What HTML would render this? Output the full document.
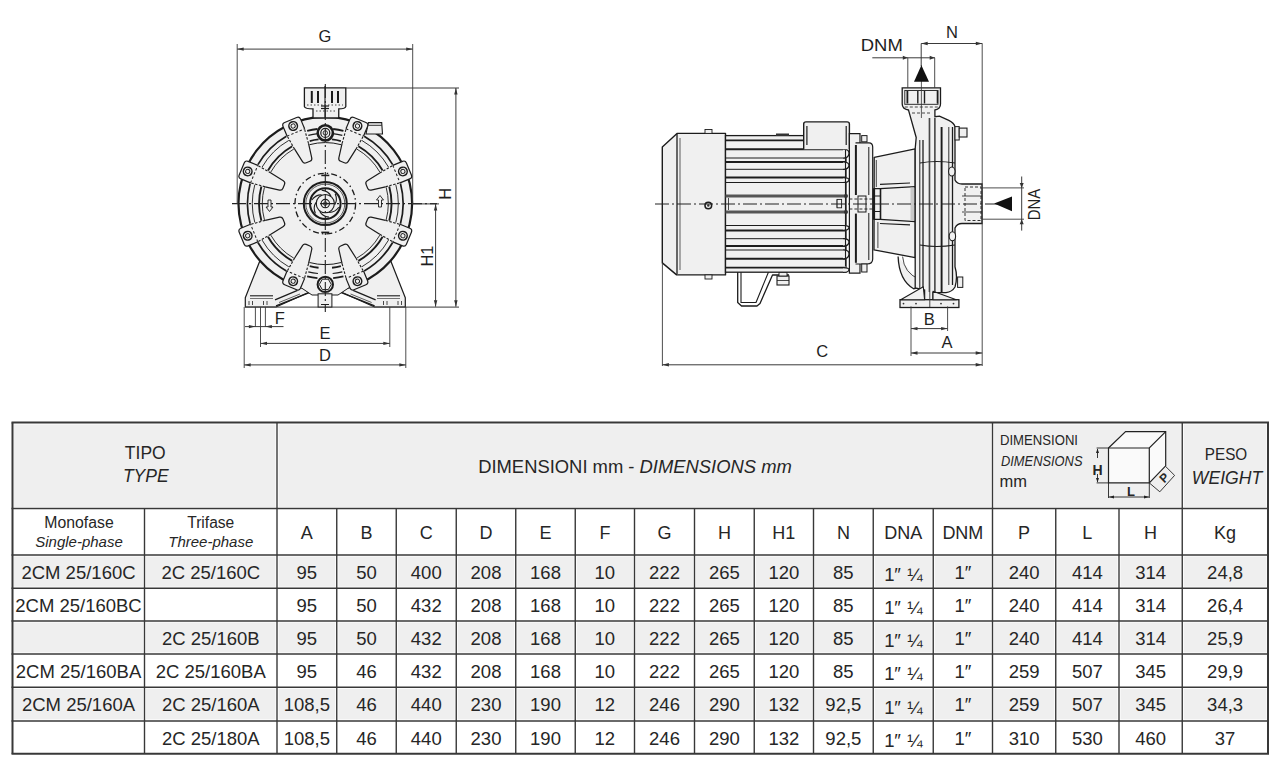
<!DOCTYPE html>
<html><head><meta charset="utf-8"><style>
html,body{margin:0;padding:0;background:#fff;width:1280px;height:773px;overflow:hidden}
svg{position:absolute;left:0;top:0;font-family:"Liberation Sans",sans-serif;fill:#262626}
</style></head><body>
<svg width="1280" height="773" viewBox="0 0 1280 773">
<rect x="14.00" y="424.50" width="261.50" height="82.50" fill="#efefef"/>
<rect x="278.50" y="424.50" width="712.50" height="82.50" fill="#efefef"/>
<rect x="994.00" y="424.50" width="186.75" height="82.50" fill="#efefef"/>
<rect x="1183.75" y="424.50" width="82.75" height="82.50" fill="#efefef"/>
<rect x="14.00" y="556.50" width="129.00" height="30.20" fill="#efefef"/>
<rect x="146.00" y="556.50" width="129.50" height="30.20" fill="#efefef"/>
<rect x="278.50" y="556.50" width="56.75" height="30.20" fill="#efefef"/>
<rect x="338.25" y="556.50" width="56.50" height="30.20" fill="#efefef"/>
<rect x="397.75" y="556.50" width="57.00" height="30.20" fill="#efefef"/>
<rect x="457.75" y="556.50" width="56.50" height="30.20" fill="#efefef"/>
<rect x="517.25" y="556.50" width="56.50" height="30.20" fill="#efefef"/>
<rect x="576.75" y="556.50" width="56.25" height="30.20" fill="#efefef"/>
<rect x="636.00" y="556.50" width="57.00" height="30.20" fill="#efefef"/>
<rect x="696.00" y="556.50" width="56.75" height="30.20" fill="#efefef"/>
<rect x="755.75" y="556.50" width="56.25" height="30.20" fill="#efefef"/>
<rect x="815.00" y="556.50" width="56.75" height="30.20" fill="#efefef"/>
<rect x="874.75" y="556.50" width="57.00" height="30.20" fill="#efefef"/>
<rect x="934.75" y="556.50" width="56.25" height="30.20" fill="#efefef"/>
<rect x="994.00" y="556.50" width="60.25" height="30.20" fill="#efefef"/>
<rect x="1057.25" y="556.50" width="60.25" height="30.20" fill="#efefef"/>
<rect x="1120.50" y="556.50" width="60.25" height="30.20" fill="#efefef"/>
<rect x="1183.75" y="556.50" width="82.75" height="30.20" fill="#efefef"/>
<rect x="14.00" y="622.50" width="129.00" height="30.00" fill="#efefef"/>
<rect x="146.00" y="622.50" width="129.50" height="30.00" fill="#efefef"/>
<rect x="278.50" y="622.50" width="56.75" height="30.00" fill="#efefef"/>
<rect x="338.25" y="622.50" width="56.50" height="30.00" fill="#efefef"/>
<rect x="397.75" y="622.50" width="57.00" height="30.00" fill="#efefef"/>
<rect x="457.75" y="622.50" width="56.50" height="30.00" fill="#efefef"/>
<rect x="517.25" y="622.50" width="56.50" height="30.00" fill="#efefef"/>
<rect x="576.75" y="622.50" width="56.25" height="30.00" fill="#efefef"/>
<rect x="636.00" y="622.50" width="57.00" height="30.00" fill="#efefef"/>
<rect x="696.00" y="622.50" width="56.75" height="30.00" fill="#efefef"/>
<rect x="755.75" y="622.50" width="56.25" height="30.00" fill="#efefef"/>
<rect x="815.00" y="622.50" width="56.75" height="30.00" fill="#efefef"/>
<rect x="874.75" y="622.50" width="57.00" height="30.00" fill="#efefef"/>
<rect x="934.75" y="622.50" width="56.25" height="30.00" fill="#efefef"/>
<rect x="994.00" y="622.50" width="60.25" height="30.00" fill="#efefef"/>
<rect x="1057.25" y="622.50" width="60.25" height="30.00" fill="#efefef"/>
<rect x="1120.50" y="622.50" width="60.25" height="30.00" fill="#efefef"/>
<rect x="1183.75" y="622.50" width="82.75" height="30.00" fill="#efefef"/>
<rect x="14.00" y="688.80" width="129.00" height="30.60" fill="#efefef"/>
<rect x="146.00" y="688.80" width="129.50" height="30.60" fill="#efefef"/>
<rect x="278.50" y="688.80" width="56.75" height="30.60" fill="#efefef"/>
<rect x="338.25" y="688.80" width="56.50" height="30.60" fill="#efefef"/>
<rect x="397.75" y="688.80" width="57.00" height="30.60" fill="#efefef"/>
<rect x="457.75" y="688.80" width="56.50" height="30.60" fill="#efefef"/>
<rect x="517.25" y="688.80" width="56.50" height="30.60" fill="#efefef"/>
<rect x="576.75" y="688.80" width="56.25" height="30.60" fill="#efefef"/>
<rect x="636.00" y="688.80" width="57.00" height="30.60" fill="#efefef"/>
<rect x="696.00" y="688.80" width="56.75" height="30.60" fill="#efefef"/>
<rect x="755.75" y="688.80" width="56.25" height="30.60" fill="#efefef"/>
<rect x="815.00" y="688.80" width="56.75" height="30.60" fill="#efefef"/>
<rect x="874.75" y="688.80" width="57.00" height="30.60" fill="#efefef"/>
<rect x="934.75" y="688.80" width="56.25" height="30.60" fill="#efefef"/>
<rect x="994.00" y="688.80" width="60.25" height="30.60" fill="#efefef"/>
<rect x="1057.25" y="688.80" width="60.25" height="30.60" fill="#efefef"/>
<rect x="1120.50" y="688.80" width="60.25" height="30.60" fill="#efefef"/>
<rect x="1183.75" y="688.80" width="82.75" height="30.60" fill="#efefef"/>
<line x1="11.5" y1="422.5" x2="1269" y2="422.5" stroke="#383838" stroke-width="2"/>
<line x1="11.5" y1="508.5" x2="1269" y2="508.5" stroke="#383838" stroke-width="1.5"/>
<line x1="11.5" y1="555" x2="1269" y2="555" stroke="#383838" stroke-width="1.5"/>
<line x1="11.5" y1="588.2" x2="1269" y2="588.2" stroke="#383838" stroke-width="1.5"/>
<line x1="11.5" y1="621" x2="1269" y2="621" stroke="#383838" stroke-width="1.5"/>
<line x1="11.5" y1="654" x2="1269" y2="654" stroke="#383838" stroke-width="1.5"/>
<line x1="11.5" y1="687.3" x2="1269" y2="687.3" stroke="#383838" stroke-width="1.5"/>
<line x1="11.5" y1="720.9" x2="1269" y2="720.9" stroke="#383838" stroke-width="1.5"/>
<line x1="11.5" y1="753.7" x2="1269" y2="753.7" stroke="#383838" stroke-width="2"/>
<line x1="12.5" y1="422.5" x2="12.5" y2="753.7" stroke="#383838" stroke-width="2"/>
<line x1="144.5" y1="508.5" x2="144.5" y2="753.7" stroke="#383838" stroke-width="1.4"/>
<line x1="277" y1="422.5" x2="277" y2="753.7" stroke="#383838" stroke-width="1.4"/>
<line x1="336.75" y1="508.5" x2="336.75" y2="753.7" stroke="#383838" stroke-width="1.4"/>
<line x1="396.25" y1="508.5" x2="396.25" y2="753.7" stroke="#383838" stroke-width="1.4"/>
<line x1="456.25" y1="508.5" x2="456.25" y2="753.7" stroke="#383838" stroke-width="1.4"/>
<line x1="515.75" y1="508.5" x2="515.75" y2="753.7" stroke="#383838" stroke-width="1.4"/>
<line x1="575.25" y1="508.5" x2="575.25" y2="753.7" stroke="#383838" stroke-width="1.4"/>
<line x1="634.5" y1="508.5" x2="634.5" y2="753.7" stroke="#383838" stroke-width="1.4"/>
<line x1="694.5" y1="508.5" x2="694.5" y2="753.7" stroke="#383838" stroke-width="1.4"/>
<line x1="754.25" y1="508.5" x2="754.25" y2="753.7" stroke="#383838" stroke-width="1.4"/>
<line x1="813.5" y1="508.5" x2="813.5" y2="753.7" stroke="#383838" stroke-width="1.4"/>
<line x1="873.25" y1="508.5" x2="873.25" y2="753.7" stroke="#383838" stroke-width="1.4"/>
<line x1="933.25" y1="508.5" x2="933.25" y2="753.7" stroke="#383838" stroke-width="1.4"/>
<line x1="992.5" y1="422.5" x2="992.5" y2="753.7" stroke="#383838" stroke-width="1.4"/>
<line x1="1055.75" y1="508.5" x2="1055.75" y2="753.7" stroke="#383838" stroke-width="1.4"/>
<line x1="1119" y1="508.5" x2="1119" y2="753.7" stroke="#383838" stroke-width="1.4"/>
<line x1="1182.25" y1="422.5" x2="1182.25" y2="753.7" stroke="#383838" stroke-width="1.4"/>
<line x1="1268" y1="422.5" x2="1268" y2="753.7" stroke="#383838" stroke-width="2"/>
<text x="145.25" y="458.50" font-size="17.5" text-anchor="middle">TIPO</text>
<text x="145.75" y="481.80" font-size="17.5" text-anchor="middle" font-style="italic">TYPE</text>
<text x="635.00" y="472.90" font-size="18.4" text-anchor="middle">DIMENSIONI mm - <tspan font-style="italic">DIMENSIONS mm</tspan></text>
<text x="1226.00" y="460.40" font-size="17" text-anchor="middle" textLength="42.5" lengthAdjust="spacingAndGlyphs">PESO</text>
<text x="1227.00" y="483.70" font-size="17.5" text-anchor="middle" font-style="italic" textLength="70.5" lengthAdjust="spacingAndGlyphs">WEIGHT</text>
<text x="79.00" y="528.00" font-size="15.8" text-anchor="middle">Monofase</text>
<text x="79.00" y="547.30" font-size="15" text-anchor="middle" font-style="italic">Single-phase</text>
<text x="210.75" y="528.00" font-size="15.6" text-anchor="middle">Trifase</text>
<text x="210.75" y="547.30" font-size="15" text-anchor="middle" font-style="italic">Three-phase</text>
<text x="306.88" y="538.60" font-size="18" text-anchor="middle">A</text>
<text x="366.50" y="538.60" font-size="18" text-anchor="middle">B</text>
<text x="426.25" y="538.60" font-size="18" text-anchor="middle">C</text>
<text x="486.00" y="538.60" font-size="18" text-anchor="middle">D</text>
<text x="545.50" y="538.60" font-size="18" text-anchor="middle">E</text>
<text x="604.88" y="538.60" font-size="18" text-anchor="middle">F</text>
<text x="664.50" y="538.60" font-size="18" text-anchor="middle">G</text>
<text x="724.38" y="538.60" font-size="18" text-anchor="middle">H</text>
<text x="783.88" y="538.60" font-size="18" text-anchor="middle">H1</text>
<text x="843.38" y="538.60" font-size="18" text-anchor="middle">N</text>
<text x="903.25" y="538.60" font-size="18" text-anchor="middle">DNA</text>
<text x="962.88" y="538.60" font-size="18" text-anchor="middle">DNM</text>
<text x="1024.12" y="538.60" font-size="18" text-anchor="middle">P</text>
<text x="1087.38" y="538.60" font-size="18" text-anchor="middle">L</text>
<text x="1150.62" y="538.60" font-size="18" text-anchor="middle">H</text>
<text x="1225.12" y="538.60" font-size="18" text-anchor="middle">Kg</text>
<text x="78.50" y="578.80" font-size="18.5" text-anchor="middle">2CM 25/160C</text>
<text x="210.75" y="578.80" font-size="18.5" text-anchor="middle">2C 25/160C</text>
<text x="306.88" y="578.80" font-size="18.5" text-anchor="middle">95</text>
<text x="366.50" y="578.80" font-size="18.5" text-anchor="middle">50</text>
<text x="426.25" y="578.80" font-size="18.5" text-anchor="middle">400</text>
<text x="486.00" y="578.80" font-size="18.5" text-anchor="middle">208</text>
<text x="545.50" y="578.80" font-size="18.5" text-anchor="middle">168</text>
<text x="604.88" y="578.80" font-size="18.5" text-anchor="middle">10</text>
<text x="664.50" y="578.80" font-size="18.5" text-anchor="middle">222</text>
<text x="724.38" y="578.80" font-size="18.5" text-anchor="middle">265</text>
<text x="783.88" y="578.80" font-size="18.5" text-anchor="middle">120</text>
<text x="843.38" y="578.80" font-size="18.5" text-anchor="middle">85</text>
<text x="884.25" y="581.10" font-size="18.5">1</text>
<text x="894.25" y="581.10" font-size="18.5">&#8243;</text>
<text x="907.25" y="581.40" font-size="18.5">&#188;</text>
<text x="962.88" y="578.80" font-size="18.5" text-anchor="middle">1&#8243;</text>
<text x="1024.12" y="578.80" font-size="18.5" text-anchor="middle">240</text>
<text x="1087.38" y="578.80" font-size="18.5" text-anchor="middle">414</text>
<text x="1150.62" y="578.80" font-size="18.5" text-anchor="middle">314</text>
<text x="1225.12" y="578.80" font-size="18.5" text-anchor="middle">24,8</text>
<text x="78.50" y="611.80" font-size="18.5" text-anchor="middle">2CM 25/160BC</text>
<text x="306.88" y="611.80" font-size="18.5" text-anchor="middle">95</text>
<text x="366.50" y="611.80" font-size="18.5" text-anchor="middle">50</text>
<text x="426.25" y="611.80" font-size="18.5" text-anchor="middle">432</text>
<text x="486.00" y="611.80" font-size="18.5" text-anchor="middle">208</text>
<text x="545.50" y="611.80" font-size="18.5" text-anchor="middle">168</text>
<text x="604.88" y="611.80" font-size="18.5" text-anchor="middle">10</text>
<text x="664.50" y="611.80" font-size="18.5" text-anchor="middle">222</text>
<text x="724.38" y="611.80" font-size="18.5" text-anchor="middle">265</text>
<text x="783.88" y="611.80" font-size="18.5" text-anchor="middle">120</text>
<text x="843.38" y="611.80" font-size="18.5" text-anchor="middle">85</text>
<text x="884.25" y="614.10" font-size="18.5">1</text>
<text x="894.25" y="614.10" font-size="18.5">&#8243;</text>
<text x="907.25" y="614.40" font-size="18.5">&#188;</text>
<text x="962.88" y="611.80" font-size="18.5" text-anchor="middle">1&#8243;</text>
<text x="1024.12" y="611.80" font-size="18.5" text-anchor="middle">240</text>
<text x="1087.38" y="611.80" font-size="18.5" text-anchor="middle">414</text>
<text x="1150.62" y="611.80" font-size="18.5" text-anchor="middle">314</text>
<text x="1225.12" y="611.80" font-size="18.5" text-anchor="middle">26,4</text>
<text x="210.75" y="644.70" font-size="18.5" text-anchor="middle">2C 25/160B</text>
<text x="306.88" y="644.70" font-size="18.5" text-anchor="middle">95</text>
<text x="366.50" y="644.70" font-size="18.5" text-anchor="middle">50</text>
<text x="426.25" y="644.70" font-size="18.5" text-anchor="middle">432</text>
<text x="486.00" y="644.70" font-size="18.5" text-anchor="middle">208</text>
<text x="545.50" y="644.70" font-size="18.5" text-anchor="middle">168</text>
<text x="604.88" y="644.70" font-size="18.5" text-anchor="middle">10</text>
<text x="664.50" y="644.70" font-size="18.5" text-anchor="middle">222</text>
<text x="724.38" y="644.70" font-size="18.5" text-anchor="middle">265</text>
<text x="783.88" y="644.70" font-size="18.5" text-anchor="middle">120</text>
<text x="843.38" y="644.70" font-size="18.5" text-anchor="middle">85</text>
<text x="884.25" y="647.00" font-size="18.5">1</text>
<text x="894.25" y="647.00" font-size="18.5">&#8243;</text>
<text x="907.25" y="647.30" font-size="18.5">&#188;</text>
<text x="962.88" y="644.70" font-size="18.5" text-anchor="middle">1&#8243;</text>
<text x="1024.12" y="644.70" font-size="18.5" text-anchor="middle">240</text>
<text x="1087.38" y="644.70" font-size="18.5" text-anchor="middle">414</text>
<text x="1150.62" y="644.70" font-size="18.5" text-anchor="middle">314</text>
<text x="1225.12" y="644.70" font-size="18.5" text-anchor="middle">25,9</text>
<text x="78.50" y="677.85" font-size="18.5" text-anchor="middle">2CM 25/160BA</text>
<text x="210.75" y="677.85" font-size="18.5" text-anchor="middle">2C 25/160BA</text>
<text x="306.88" y="677.85" font-size="18.5" text-anchor="middle">95</text>
<text x="366.50" y="677.85" font-size="18.5" text-anchor="middle">46</text>
<text x="426.25" y="677.85" font-size="18.5" text-anchor="middle">432</text>
<text x="486.00" y="677.85" font-size="18.5" text-anchor="middle">208</text>
<text x="545.50" y="677.85" font-size="18.5" text-anchor="middle">168</text>
<text x="604.88" y="677.85" font-size="18.5" text-anchor="middle">10</text>
<text x="664.50" y="677.85" font-size="18.5" text-anchor="middle">222</text>
<text x="724.38" y="677.85" font-size="18.5" text-anchor="middle">265</text>
<text x="783.88" y="677.85" font-size="18.5" text-anchor="middle">120</text>
<text x="843.38" y="677.85" font-size="18.5" text-anchor="middle">85</text>
<text x="884.25" y="680.15" font-size="18.5">1</text>
<text x="894.25" y="680.15" font-size="18.5">&#8243;</text>
<text x="907.25" y="680.45" font-size="18.5">&#188;</text>
<text x="962.88" y="677.85" font-size="18.5" text-anchor="middle">1&#8243;</text>
<text x="1024.12" y="677.85" font-size="18.5" text-anchor="middle">259</text>
<text x="1087.38" y="677.85" font-size="18.5" text-anchor="middle">507</text>
<text x="1150.62" y="677.85" font-size="18.5" text-anchor="middle">345</text>
<text x="1225.12" y="677.85" font-size="18.5" text-anchor="middle">29,9</text>
<text x="78.50" y="711.30" font-size="18.5" text-anchor="middle">2CM 25/160A</text>
<text x="210.75" y="711.30" font-size="18.5" text-anchor="middle">2C 25/160A</text>
<text x="306.88" y="711.30" font-size="18.5" text-anchor="middle">108,5</text>
<text x="366.50" y="711.30" font-size="18.5" text-anchor="middle">46</text>
<text x="426.25" y="711.30" font-size="18.5" text-anchor="middle">440</text>
<text x="486.00" y="711.30" font-size="18.5" text-anchor="middle">230</text>
<text x="545.50" y="711.30" font-size="18.5" text-anchor="middle">190</text>
<text x="604.88" y="711.30" font-size="18.5" text-anchor="middle">12</text>
<text x="664.50" y="711.30" font-size="18.5" text-anchor="middle">246</text>
<text x="724.38" y="711.30" font-size="18.5" text-anchor="middle">290</text>
<text x="783.88" y="711.30" font-size="18.5" text-anchor="middle">132</text>
<text x="843.38" y="711.30" font-size="18.5" text-anchor="middle">92,5</text>
<text x="884.25" y="713.60" font-size="18.5">1</text>
<text x="894.25" y="713.60" font-size="18.5">&#8243;</text>
<text x="907.25" y="713.90" font-size="18.5">&#188;</text>
<text x="962.88" y="711.30" font-size="18.5" text-anchor="middle">1&#8243;</text>
<text x="1024.12" y="711.30" font-size="18.5" text-anchor="middle">259</text>
<text x="1087.38" y="711.30" font-size="18.5" text-anchor="middle">507</text>
<text x="1150.62" y="711.30" font-size="18.5" text-anchor="middle">345</text>
<text x="1225.12" y="711.30" font-size="18.5" text-anchor="middle">34,3</text>
<text x="210.75" y="744.50" font-size="18.5" text-anchor="middle">2C 25/180A</text>
<text x="306.88" y="744.50" font-size="18.5" text-anchor="middle">108,5</text>
<text x="366.50" y="744.50" font-size="18.5" text-anchor="middle">46</text>
<text x="426.25" y="744.50" font-size="18.5" text-anchor="middle">440</text>
<text x="486.00" y="744.50" font-size="18.5" text-anchor="middle">230</text>
<text x="545.50" y="744.50" font-size="18.5" text-anchor="middle">190</text>
<text x="604.88" y="744.50" font-size="18.5" text-anchor="middle">12</text>
<text x="664.50" y="744.50" font-size="18.5" text-anchor="middle">246</text>
<text x="724.38" y="744.50" font-size="18.5" text-anchor="middle">290</text>
<text x="783.88" y="744.50" font-size="18.5" text-anchor="middle">132</text>
<text x="843.38" y="744.50" font-size="18.5" text-anchor="middle">92,5</text>
<text x="884.25" y="746.80" font-size="18.5">1</text>
<text x="894.25" y="746.80" font-size="18.5">&#8243;</text>
<text x="907.25" y="747.10" font-size="18.5">&#188;</text>
<text x="962.88" y="744.50" font-size="18.5" text-anchor="middle">1&#8243;</text>
<text x="1024.12" y="744.50" font-size="18.5" text-anchor="middle">310</text>
<text x="1087.38" y="744.50" font-size="18.5" text-anchor="middle">530</text>
<text x="1150.62" y="744.50" font-size="18.5" text-anchor="middle">460</text>
<text x="1225.12" y="744.50" font-size="18.5" text-anchor="middle">37</text>
<text x="1000" y="445" font-size="14.5" textLength="78" lengthAdjust="spacingAndGlyphs">DIMENSIONI</text>
<text x="1001" y="466" font-size="14.5" font-style="italic" textLength="81.5" lengthAdjust="spacingAndGlyphs">DIMENSIONS</text>
<text x="999.5" y="487.3" font-size="16.5">mm</text>
<path d="M1108.5,448 L1125.6,431.6 L1165.7,431.6 L1165.7,465.8 L1149.3,482.9 L1108.5,482.9 Z" fill="#fafafa" stroke="#222" stroke-width="1.2"/>
<path d="M1108.5,448 L1149.3,448 L1165.7,431.6 M1149.3,448 L1149.3,482.9" fill="none" stroke="#222" stroke-width="1.2"/>
<path d="M1096.6,448 L1108.5,448 M1096.6,482.9 L1108.5,482.9 M1097.5,449 L1097.5,458 M1097.5,474 L1097.5,482" fill="none" stroke="#222" stroke-width="0.9"/>
<polygon points="1097.5,448.5 1096,453 1099,453" fill="#222"/><polygon points="1097.5,482.5 1096,478 1099,478" fill="#222"/>
<text x="1097.5" y="474.7" font-size="14" font-weight="bold" text-anchor="middle">H</text>
<path d="M1108.5,483 L1108.5,498 M1149.3,483 L1149.3,498 M1109,497 L1149,497" fill="none" stroke="#222" stroke-width="0.9"/>
<polygon points="1109,497 1114,495.5 1114,498.5" fill="#222"/><polygon points="1149,497 1144,495.5 1144,498.5" fill="#222"/>
<text x="1131" y="495.5" font-size="13" font-weight="bold" text-anchor="middle">L</text>
<path d="M1149.3,482.9 L1159.8,491.8 M1165.7,466.5 L1174.6,475.4 M1159.8,491.8 L1174.6,475.4" fill="none" stroke="#222" stroke-width="0.9"/>
<text x="1163.5" y="482" font-size="12" font-weight="bold" text-anchor="middle" transform="rotate(-45 1163.5 477)">P</text>
<polygon points="261.00,258.00 245.30,297.80 245.30,307.00 276.00,307.00 314.00,290.00 300.00,270.00" fill="#f0f0f0" stroke="#1c1c1c" stroke-width="1.2" stroke-linejoin="round"/>
<polygon points="389.60,258.00 405.30,297.80 405.30,307.00 374.60,307.00 336.60,290.00 350.60,270.00" fill="#f0f0f0" stroke="#1c1c1c" stroke-width="1.2" stroke-linejoin="round"/>
<line x1="250.00" y1="295.80" x2="273.00" y2="295.80" stroke="#1c1c1c" stroke-width="1.1"/>
<line x1="250.00" y1="298.50" x2="273.00" y2="298.50" stroke="#1c1c1c" stroke-width="0.6"/>
<line x1="377.00" y1="295.80" x2="400.00" y2="295.80" stroke="#1c1c1c" stroke-width="1.1"/>
<line x1="377.00" y1="298.50" x2="400.00" y2="298.50" stroke="#1c1c1c" stroke-width="0.6"/>
<line x1="249.00" y1="301.00" x2="249.00" y2="305.00" stroke="#1c1c1c" stroke-width="0.8"/>
<line x1="252.50" y1="301.00" x2="252.50" y2="305.00" stroke="#1c1c1c" stroke-width="0.8"/>
<line x1="263.50" y1="301.00" x2="263.50" y2="305.00" stroke="#1c1c1c" stroke-width="0.8"/>
<line x1="267.00" y1="301.00" x2="267.00" y2="305.00" stroke="#1c1c1c" stroke-width="0.8"/>
<line x1="383.50" y1="301.00" x2="383.50" y2="305.00" stroke="#1c1c1c" stroke-width="0.8"/>
<line x1="387.00" y1="301.00" x2="387.00" y2="305.00" stroke="#1c1c1c" stroke-width="0.8"/>
<line x1="398.00" y1="301.00" x2="398.00" y2="305.00" stroke="#1c1c1c" stroke-width="0.8"/>
<line x1="401.50" y1="301.00" x2="401.50" y2="305.00" stroke="#1c1c1c" stroke-width="0.8"/>
<line x1="276.00" y1="305.80" x2="313.00" y2="291.20" stroke="#1c1c1c" stroke-width="1.4"/>
<line x1="275.00" y1="299.80" x2="297.50" y2="290.40" stroke="#1c1c1c" stroke-width="1.3"/>
<line x1="279.00" y1="302.50" x2="300.00" y2="294.00" stroke="#1c1c1c" stroke-width="0.7"/>
<line x1="374.60" y1="305.80" x2="337.60" y2="291.20" stroke="#1c1c1c" stroke-width="1.4"/>
<line x1="375.60" y1="299.80" x2="353.10" y2="290.40" stroke="#1c1c1c" stroke-width="1.3"/>
<line x1="371.60" y1="302.50" x2="350.60" y2="294.00" stroke="#1c1c1c" stroke-width="0.7"/>
<line x1="245.00" y1="307.10" x2="459.00" y2="307.10" stroke="#3a3a3a" stroke-width="1.0"/>
<circle cx="325.30" cy="203.60" r="86.80" fill="#f0f0f0" stroke="none" stroke-width="0"/>
<path d="M360.60,282.90 A86.80,86.80 0 1 0 290.00,282.90" fill="none" stroke="#1c1c1c" stroke-width="2.2"/>
<path d="M340.55,290.07 A87.80,87.80 0 0 0 361.01,283.81" fill="none" stroke="#1c1c1c" stroke-width="1.0"/>
<path d="M289.59,283.81 A87.80,87.80 0 0 0 310.05,290.07" fill="none" stroke="#1c1c1c" stroke-width="1.0"/>
<path d="M366,134 L368.4,122.6 L381.7,122.6 L382.5,134 Z" fill="#f0f0f0" stroke="#1c1c1c" stroke-width="1.1"/>
<line x1="368.40" y1="125.30" x2="381.70" y2="125.30" stroke="#1c1c1c" stroke-width="0.9"/>
<path d="M304.4,87.8 L345.8,87.8 L345.8,106.6 Q345,108.9 338.75,108.9 L338.75,118 L313,118 L313,108.9 Q305.2,108.9 304.4,106.6 Z" fill="#f0f0f0" stroke="#1c1c1c" stroke-width="1.3"/>
<line x1="311.80" y1="91.00" x2="311.80" y2="103.00" stroke="#1c1c1c" stroke-width="2.0"/>
<line x1="318.00" y1="91.00" x2="318.00" y2="103.00" stroke="#1c1c1c" stroke-width="2.0"/>
<line x1="332.00" y1="91.00" x2="332.00" y2="103.00" stroke="#1c1c1c" stroke-width="2.0"/>
<line x1="338.00" y1="91.00" x2="338.00" y2="103.00" stroke="#1c1c1c" stroke-width="2.0"/>
<line x1="325.00" y1="86.00" x2="325.00" y2="118.00" stroke="#1c1c1c" stroke-width="1.1"/>
<line x1="321.00" y1="106.00" x2="329.00" y2="106.00" stroke="#1c1c1c" stroke-width="1.2"/>
<line x1="321.00" y1="108.50" x2="329.00" y2="108.50" stroke="#1c1c1c" stroke-width="1.2"/>
<line x1="307.00" y1="105.00" x2="343.00" y2="105.00" stroke="#1c1c1c" stroke-width="0.8" stroke-dasharray="1.5 2"/>
<line x1="316.00" y1="111.00" x2="336.00" y2="111.00" stroke="#1c1c1c" stroke-width="0.8" stroke-dasharray="1.5 2"/>
<path d="M400.45,223.74 A77.80,77.80 0 0 0 400.45,183.46" fill="none" stroke="#1c1c1c" stroke-width="1.7"/>
<path d="M395.81,222.49 A73.00,73.00 0 0 0 395.81,184.71" fill="none" stroke="#1c1c1c" stroke-width="0.9"/>
<path d="M389.24,220.73 A66.20,66.20 0 0 0 389.24,186.47" fill="none" stroke="#1c1c1c" stroke-width="1.9"/>
<path d="M386.15,219.91 A63.00,63.00 0 0 0 386.15,187.29" fill="none" stroke="#1c1c1c" stroke-width="0.9"/>
<path d="M392.68,164.70 A77.80,77.80 0 0 0 364.20,136.22" fill="none" stroke="#1c1c1c" stroke-width="1.7"/>
<path d="M388.52,167.10 A73.00,73.00 0 0 0 361.80,140.38" fill="none" stroke="#1c1c1c" stroke-width="0.9"/>
<path d="M382.63,170.50 A66.20,66.20 0 0 0 358.40,146.27" fill="none" stroke="#1c1c1c" stroke-width="1.9"/>
<path d="M379.86,172.10 A63.00,63.00 0 0 0 356.80,149.04" fill="none" stroke="#1c1c1c" stroke-width="0.9"/>
<path d="M286.40,136.22 A77.80,77.80 0 0 0 257.92,164.70" fill="none" stroke="#1c1c1c" stroke-width="1.7"/>
<path d="M288.80,140.38 A73.00,73.00 0 0 0 262.08,167.10" fill="none" stroke="#1c1c1c" stroke-width="0.9"/>
<path d="M292.20,146.27 A66.20,66.20 0 0 0 267.97,170.50" fill="none" stroke="#1c1c1c" stroke-width="1.9"/>
<path d="M293.80,149.04 A63.00,63.00 0 0 0 270.74,172.10" fill="none" stroke="#1c1c1c" stroke-width="0.9"/>
<path d="M250.15,183.46 A77.80,77.80 0 0 0 250.15,223.74" fill="none" stroke="#1c1c1c" stroke-width="1.7"/>
<path d="M254.79,184.71 A73.00,73.00 0 0 0 254.79,222.49" fill="none" stroke="#1c1c1c" stroke-width="0.9"/>
<path d="M261.36,186.47 A66.20,66.20 0 0 0 261.36,220.73" fill="none" stroke="#1c1c1c" stroke-width="1.9"/>
<path d="M264.45,187.29 A63.00,63.00 0 0 0 264.45,219.91" fill="none" stroke="#1c1c1c" stroke-width="0.9"/>
<path d="M257.92,242.50 A77.80,77.80 0 0 0 286.40,270.98" fill="none" stroke="#1c1c1c" stroke-width="1.7"/>
<path d="M262.08,240.10 A73.00,73.00 0 0 0 288.80,266.82" fill="none" stroke="#1c1c1c" stroke-width="0.9"/>
<path d="M267.97,236.70 A66.20,66.20 0 0 0 292.20,260.93" fill="none" stroke="#1c1c1c" stroke-width="1.9"/>
<path d="M270.74,235.10 A63.00,63.00 0 0 0 293.80,258.16" fill="none" stroke="#1c1c1c" stroke-width="0.9"/>
<path d="M364.20,270.98 A77.80,77.80 0 0 0 392.68,242.50" fill="none" stroke="#1c1c1c" stroke-width="1.7"/>
<path d="M361.80,266.82 A73.00,73.00 0 0 0 388.52,240.10" fill="none" stroke="#1c1c1c" stroke-width="0.9"/>
<path d="M358.40,260.93 A66.20,66.20 0 0 0 382.63,236.70" fill="none" stroke="#1c1c1c" stroke-width="1.9"/>
<path d="M356.80,258.16 A63.00,63.00 0 0 0 379.86,235.10" fill="none" stroke="#1c1c1c" stroke-width="0.9"/>
<path d="M343.44,130.83 A75.00,75.00 0 0 0 333.14,129.01" fill="none" stroke="#1c1c1c" stroke-width="1.8"/>
<path d="M317.46,129.01 A75.00,75.00 0 0 0 307.16,130.83" fill="none" stroke="#1c1c1c" stroke-width="1.8"/>
<path d="M342.31,135.39 A70.30,70.30 0 0 0 332.65,133.69" fill="none" stroke="#1c1c1c" stroke-width="1.2"/>
<path d="M317.95,133.69 A70.30,70.30 0 0 0 308.29,135.39" fill="none" stroke="#1c1c1c" stroke-width="1.2"/>
<path d="M340.90,141.02 A64.50,64.50 0 0 0 332.04,139.45" fill="none" stroke="#1c1c1c" stroke-width="1.8"/>
<path d="M318.56,139.45 A64.50,64.50 0 0 0 309.70,141.02" fill="none" stroke="#1c1c1c" stroke-width="1.8"/>
<path d="M341.09,144.68 A61.00,61.00 0 0 0 309.51,144.68" fill="none" stroke="#1c1c1c" stroke-width="1.0"/>
<path d="M307.16,276.37 A75.00,75.00 0 0 0 317.46,278.19" fill="none" stroke="#1c1c1c" stroke-width="1.8"/>
<path d="M333.14,278.19 A75.00,75.00 0 0 0 343.44,276.37" fill="none" stroke="#1c1c1c" stroke-width="1.8"/>
<path d="M308.29,271.81 A70.30,70.30 0 0 0 317.95,273.51" fill="none" stroke="#1c1c1c" stroke-width="1.2"/>
<path d="M332.65,273.51 A70.30,70.30 0 0 0 342.31,271.81" fill="none" stroke="#1c1c1c" stroke-width="1.2"/>
<path d="M309.70,266.18 A64.50,64.50 0 0 0 318.56,267.75" fill="none" stroke="#1c1c1c" stroke-width="1.8"/>
<path d="M332.04,267.75 A64.50,64.50 0 0 0 340.90,266.18" fill="none" stroke="#1c1c1c" stroke-width="1.8"/>
<path d="M309.51,262.52 A61.00,61.00 0 0 0 341.09,262.52" fill="none" stroke="#1c1c1c" stroke-width="1.0"/>
<g transform="translate(325.30,203.60) rotate(-22.50)"><path d="M78,-9.5 L62,-7.5 L47.5,-5 Q45,-4.6 45,-2 L45,2 Q45,4.6 47.5,5 L62,7.5 L78,9.5 Z" fill="#f0f0f0" stroke="none"/><path d="M62,-7.5 L47.5,-5 Q45,-4.6 45,-2 L45,2 Q45,4.6 47.5,5 L62,7.5" fill="none" stroke="#1c1c1c" stroke-width="1.2"/><path d="M62,-7.5 L78,-9.5 M62,7.5 L78,9.5" fill="none" stroke="#1c1c1c" stroke-width="1.1" stroke-dasharray="2.5 1.5"/><path d="M77,-9.5 L87.5,-9.5 Q90.5,-9.5 90.5,-6.5 L90.5,6.5 Q90.5,9.5 87.5,9.5 L77,9.5" fill="#f0f0f0" stroke="#1c1c1c" stroke-width="1.2"/><path d="M77,-9.5 L77,9.5" fill="none" stroke="#1c1c1c" stroke-width="1.0" stroke-dasharray="2.5 2"/><circle cx="84" cy="0" r="4.3" fill="#f0f0f0" stroke="#1c1c1c" stroke-width="1.5"/><circle cx="84" cy="0" r="2.1" fill="none" stroke="#1c1c1c" stroke-width="0.9"/></g>
<g transform="translate(325.30,203.60) rotate(-67.50)"><path d="M78,-9.5 L62,-7.5 L47.5,-5 Q45,-4.6 45,-2 L45,2 Q45,4.6 47.5,5 L62,7.5 L78,9.5 Z" fill="#f0f0f0" stroke="none"/><path d="M62,-7.5 L47.5,-5 Q45,-4.6 45,-2 L45,2 Q45,4.6 47.5,5 L62,7.5" fill="none" stroke="#1c1c1c" stroke-width="1.2"/><path d="M62,-7.5 L78,-9.5 M62,7.5 L78,9.5" fill="none" stroke="#1c1c1c" stroke-width="1.1" stroke-dasharray="2.5 1.5"/><path d="M77,-9.5 L87.5,-9.5 Q90.5,-9.5 90.5,-6.5 L90.5,6.5 Q90.5,9.5 87.5,9.5 L77,9.5" fill="#f0f0f0" stroke="#1c1c1c" stroke-width="1.2"/><path d="M77,-9.5 L77,9.5" fill="none" stroke="#1c1c1c" stroke-width="1.0" stroke-dasharray="2.5 2"/><circle cx="84" cy="0" r="4.3" fill="#f0f0f0" stroke="#1c1c1c" stroke-width="1.5"/><circle cx="84" cy="0" r="2.1" fill="none" stroke="#1c1c1c" stroke-width="0.9"/></g>
<g transform="translate(325.30,203.60) rotate(-112.50)"><path d="M78,-9.5 L62,-7.5 L47.5,-5 Q45,-4.6 45,-2 L45,2 Q45,4.6 47.5,5 L62,7.5 L78,9.5 Z" fill="#f0f0f0" stroke="none"/><path d="M62,-7.5 L47.5,-5 Q45,-4.6 45,-2 L45,2 Q45,4.6 47.5,5 L62,7.5" fill="none" stroke="#1c1c1c" stroke-width="1.2"/><path d="M62,-7.5 L78,-9.5 M62,7.5 L78,9.5" fill="none" stroke="#1c1c1c" stroke-width="1.1" stroke-dasharray="2.5 1.5"/><path d="M77,-9.5 L87.5,-9.5 Q90.5,-9.5 90.5,-6.5 L90.5,6.5 Q90.5,9.5 87.5,9.5 L77,9.5" fill="#f0f0f0" stroke="#1c1c1c" stroke-width="1.2"/><path d="M77,-9.5 L77,9.5" fill="none" stroke="#1c1c1c" stroke-width="1.0" stroke-dasharray="2.5 2"/><circle cx="84" cy="0" r="4.3" fill="#f0f0f0" stroke="#1c1c1c" stroke-width="1.5"/><circle cx="84" cy="0" r="2.1" fill="none" stroke="#1c1c1c" stroke-width="0.9"/></g>
<g transform="translate(325.30,203.60) rotate(-157.50)"><path d="M78,-9.5 L62,-7.5 L47.5,-5 Q45,-4.6 45,-2 L45,2 Q45,4.6 47.5,5 L62,7.5 L78,9.5 Z" fill="#f0f0f0" stroke="none"/><path d="M62,-7.5 L47.5,-5 Q45,-4.6 45,-2 L45,2 Q45,4.6 47.5,5 L62,7.5" fill="none" stroke="#1c1c1c" stroke-width="1.2"/><path d="M62,-7.5 L78,-9.5 M62,7.5 L78,9.5" fill="none" stroke="#1c1c1c" stroke-width="1.1" stroke-dasharray="2.5 1.5"/><path d="M77,-9.5 L87.5,-9.5 Q90.5,-9.5 90.5,-6.5 L90.5,6.5 Q90.5,9.5 87.5,9.5 L77,9.5" fill="#f0f0f0" stroke="#1c1c1c" stroke-width="1.2"/><path d="M77,-9.5 L77,9.5" fill="none" stroke="#1c1c1c" stroke-width="1.0" stroke-dasharray="2.5 2"/><circle cx="84" cy="0" r="4.3" fill="#f0f0f0" stroke="#1c1c1c" stroke-width="1.5"/><circle cx="84" cy="0" r="2.1" fill="none" stroke="#1c1c1c" stroke-width="0.9"/></g>
<g transform="translate(325.30,203.60) rotate(-202.50)"><path d="M78,-9.5 L62,-7.5 L47.5,-5 Q45,-4.6 45,-2 L45,2 Q45,4.6 47.5,5 L62,7.5 L78,9.5 Z" fill="#f0f0f0" stroke="none"/><path d="M62,-7.5 L47.5,-5 Q45,-4.6 45,-2 L45,2 Q45,4.6 47.5,5 L62,7.5" fill="none" stroke="#1c1c1c" stroke-width="1.2"/><path d="M62,-7.5 L78,-9.5 M62,7.5 L78,9.5" fill="none" stroke="#1c1c1c" stroke-width="1.1" stroke-dasharray="2.5 1.5"/><path d="M77,-9.5 L87.5,-9.5 Q90.5,-9.5 90.5,-6.5 L90.5,6.5 Q90.5,9.5 87.5,9.5 L77,9.5" fill="#f0f0f0" stroke="#1c1c1c" stroke-width="1.2"/><path d="M77,-9.5 L77,9.5" fill="none" stroke="#1c1c1c" stroke-width="1.0" stroke-dasharray="2.5 2"/><circle cx="84" cy="0" r="4.3" fill="#f0f0f0" stroke="#1c1c1c" stroke-width="1.5"/><circle cx="84" cy="0" r="2.1" fill="none" stroke="#1c1c1c" stroke-width="0.9"/></g>
<g transform="translate(325.30,203.60) rotate(-247.50)"><path d="M78,-9.5 L62,-7.5 L47.5,-5 Q45,-4.6 45,-2 L45,2 Q45,4.6 47.5,5 L62,7.5 L78,9.5 Z" fill="#f0f0f0" stroke="none"/><path d="M62,-7.5 L47.5,-5 Q45,-4.6 45,-2 L45,2 Q45,4.6 47.5,5 L62,7.5" fill="none" stroke="#1c1c1c" stroke-width="1.2"/><path d="M62,-7.5 L78,-9.5 M62,7.5 L78,9.5" fill="none" stroke="#1c1c1c" stroke-width="1.1" stroke-dasharray="2.5 1.5"/><path d="M77,-9.5 L87.5,-9.5 Q90.5,-9.5 90.5,-6.5 L90.5,6.5 Q90.5,9.5 87.5,9.5 L77,9.5" fill="#f0f0f0" stroke="#1c1c1c" stroke-width="1.2"/><path d="M77,-9.5 L77,9.5" fill="none" stroke="#1c1c1c" stroke-width="1.0" stroke-dasharray="2.5 2"/><circle cx="84" cy="0" r="4.3" fill="#f0f0f0" stroke="#1c1c1c" stroke-width="1.5"/><circle cx="84" cy="0" r="2.1" fill="none" stroke="#1c1c1c" stroke-width="0.9"/></g>
<g transform="translate(325.30,203.60) rotate(-292.50)"><path d="M78,-9.5 L62,-7.5 L47.5,-5 Q45,-4.6 45,-2 L45,2 Q45,4.6 47.5,5 L62,7.5 L78,9.5 Z" fill="#f0f0f0" stroke="none"/><path d="M62,-7.5 L47.5,-5 Q45,-4.6 45,-2 L45,2 Q45,4.6 47.5,5 L62,7.5" fill="none" stroke="#1c1c1c" stroke-width="1.2"/><path d="M62,-7.5 L78,-9.5 M62,7.5 L78,9.5" fill="none" stroke="#1c1c1c" stroke-width="1.1" stroke-dasharray="2.5 1.5"/><path d="M77,-9.5 L87.5,-9.5 Q90.5,-9.5 90.5,-6.5 L90.5,6.5 Q90.5,9.5 87.5,9.5 L77,9.5" fill="#f0f0f0" stroke="#1c1c1c" stroke-width="1.2"/><path d="M77,-9.5 L77,9.5" fill="none" stroke="#1c1c1c" stroke-width="1.0" stroke-dasharray="2.5 2"/><circle cx="84" cy="0" r="4.3" fill="#f0f0f0" stroke="#1c1c1c" stroke-width="1.5"/><circle cx="84" cy="0" r="2.1" fill="none" stroke="#1c1c1c" stroke-width="0.9"/></g>
<g transform="translate(325.30,203.60) rotate(-337.50)"><path d="M78,-9.5 L62,-7.5 L47.5,-5 Q45,-4.6 45,-2 L45,2 Q45,4.6 47.5,5 L62,7.5 L78,9.5 Z" fill="#f0f0f0" stroke="none"/><path d="M62,-7.5 L47.5,-5 Q45,-4.6 45,-2 L45,2 Q45,4.6 47.5,5 L62,7.5" fill="none" stroke="#1c1c1c" stroke-width="1.2"/><path d="M62,-7.5 L78,-9.5 M62,7.5 L78,9.5" fill="none" stroke="#1c1c1c" stroke-width="1.1" stroke-dasharray="2.5 1.5"/><path d="M77,-9.5 L87.5,-9.5 Q90.5,-9.5 90.5,-6.5 L90.5,6.5 Q90.5,9.5 87.5,9.5 L77,9.5" fill="#f0f0f0" stroke="#1c1c1c" stroke-width="1.2"/><path d="M77,-9.5 L77,9.5" fill="none" stroke="#1c1c1c" stroke-width="1.0" stroke-dasharray="2.5 2"/><circle cx="84" cy="0" r="4.3" fill="#f0f0f0" stroke="#1c1c1c" stroke-width="1.5"/><circle cx="84" cy="0" r="2.1" fill="none" stroke="#1c1c1c" stroke-width="0.9"/></g>
<circle cx="325.30" cy="203.60" r="30.30" fill="none" stroke="#1c1c1c" stroke-width="1.3" stroke-dasharray="6 3 1.5 3"/>
<circle cx="325.30" cy="203.60" r="21.50" fill="#f0f0f0" stroke="#1c1c1c" stroke-width="2.0"/>
<circle cx="325.30" cy="203.60" r="19.50" fill="none" stroke="#1c1c1c" stroke-width="0.7"/>
<circle cx="325.30" cy="203.60" r="15.30" fill="none" stroke="#1c1c1c" stroke-width="2.0"/>
<path d="M338.82,207.22 Q334.71,212.57 329.08,212.32" fill="none" stroke="#1c1c1c" stroke-width="1.1"/>
<path d="M328.92,217.12 Q322.23,216.23 319.64,211.23" fill="none" stroke="#1c1c1c" stroke-width="1.1"/>
<path d="M315.40,213.50 Q312.83,207.26 315.86,202.51" fill="none" stroke="#1c1c1c" stroke-width="1.1"/>
<path d="M311.78,199.98 Q315.89,194.63 321.52,194.88" fill="none" stroke="#1c1c1c" stroke-width="1.1"/>
<path d="M321.68,190.08 Q328.37,190.97 330.96,195.97" fill="none" stroke="#1c1c1c" stroke-width="1.1"/>
<path d="M335.20,193.70 Q337.77,199.94 334.74,204.69" fill="none" stroke="#1c1c1c" stroke-width="1.1"/>
<circle cx="325.30" cy="203.60" r="9.10" fill="none" stroke="#1c1c1c" stroke-width="1.1"/>
<circle cx="325.30" cy="203.60" r="4.20" fill="none" stroke="#1c1c1c" stroke-width="1.1"/>
<circle cx="325.30" cy="203.60" r="1.80" fill="none" stroke="#1c1c1c" stroke-width="0.9"/>
<line x1="321.30" y1="175.40" x2="329.30" y2="175.40" stroke="#1c1c1c" stroke-width="1.6"/>
<line x1="321.30" y1="232.40" x2="329.30" y2="232.40" stroke="#1c1c1c" stroke-width="1.6"/>
<circle cx="325.30" cy="132.90" r="7.60" fill="#f0f0f0" stroke="#1c1c1c" stroke-width="2.6"/>
<circle cx="325.30" cy="132.90" r="4.50" fill="none" stroke="#1c1c1c" stroke-width="1.2"/>
<circle cx="325.30" cy="132.90" r="2.20" fill="none" stroke="#1c1c1c" stroke-width="0.9"/>
<path d="M300,287 L312,295 L338,295 L350,287" fill="#f0f0f0" stroke="#1c1c1c" stroke-width="1.0"/>
<rect x="318.10" y="293.80" width="13.80" height="13.20" fill="#f0f0f0" stroke="#1c1c1c" stroke-width="1.0"/>
<line x1="321.00" y1="304.50" x2="329.00" y2="304.50" stroke="#1c1c1c" stroke-width="1.0"/>
<circle cx="325.30" cy="284.40" r="7.70" fill="#f0f0f0" stroke="#1c1c1c" stroke-width="2.0"/>
<polygon points="331.30,284.40 328.30,289.60 322.30,289.60 319.30,284.40 322.30,279.20 328.30,279.20" fill="none" stroke="#1c1c1c" stroke-width="1.0" stroke-linejoin="round"/>
<polyline points="268.00,200.00 271.00,200.00 271.00,207.00 273.00,207.00 269.50,211.50 266.00,207.00 268.00,207.00 268.00,200.00" fill="none" stroke="#1c1c1c" stroke-width="0.9" stroke-linejoin="round"/>
<polyline points="378.50,207.00 381.50,207.00 381.50,200.00 383.50,200.00 380.00,195.50 376.50,200.00 378.50,200.00 378.50,207.00" fill="none" stroke="#1c1c1c" stroke-width="0.9" stroke-linejoin="round"/>
<line x1="232.00" y1="203.60" x2="437.00" y2="203.60" stroke="#222" stroke-width="1.1" stroke-dasharray="14 3 2 3"/>
<line x1="325.30" y1="84.00" x2="325.30" y2="312.00" stroke="#222" stroke-width="1.1" stroke-dasharray="14 3 2 3"/>
<line x1="237.20" y1="44.00" x2="237.20" y2="204.00" stroke="#3a3a3a" stroke-width="0.9"/>
<line x1="412.70" y1="44.00" x2="412.70" y2="204.00" stroke="#3a3a3a" stroke-width="0.9"/>
<line x1="237.20" y1="49.10" x2="412.70" y2="49.10" stroke="#3a3a3a" stroke-width="1.0"/>
<polygon points="237.20,49.10 243.70,47.40 243.70,50.80" fill="#333"/>
<polygon points="412.70,49.10 406.20,50.80 406.20,47.40" fill="#333"/>
<text x="325.00" y="42.30" font-size="16.5" text-anchor="middle" fill="#1e1e1e">G</text>
<line x1="345.70" y1="88.00" x2="459.00" y2="88.00" stroke="#3a3a3a" stroke-width="1.0"/>
<line x1="455.90" y1="88.00" x2="455.90" y2="306.70" stroke="#3a3a3a" stroke-width="1.0"/>
<polygon points="455.90,88.00 457.60,94.50 454.20,94.50" fill="#333"/>
<polygon points="455.90,306.70 454.20,300.20 457.60,300.20" fill="#333"/>
<line x1="412.00" y1="203.90" x2="439.00" y2="203.90" stroke="#3a3a3a" stroke-width="1.0"/>
<line x1="435.60" y1="203.90" x2="435.60" y2="306.70" stroke="#3a3a3a" stroke-width="1.0"/>
<polygon points="435.60,203.90 437.30,210.40 433.90,210.40" fill="#333"/>
<polygon points="435.60,306.70 433.90,300.20 437.30,300.20" fill="#333"/>
<text x="451.50" y="193.80" font-size="16.5" text-anchor="middle" fill="#1e1e1e" transform="rotate(-90 451.50 193.80)">H</text>
<text x="433.00" y="256.00" font-size="16.5" text-anchor="middle" fill="#1e1e1e" transform="rotate(-90 433.00 256.00)">H1</text>
<line x1="244.20" y1="307.00" x2="244.20" y2="368.00" stroke="#3a3a3a" stroke-width="0.9"/>
<line x1="405.80" y1="307.00" x2="405.80" y2="368.00" stroke="#3a3a3a" stroke-width="0.9"/>
<line x1="244.20" y1="364.90" x2="405.80" y2="364.90" stroke="#3a3a3a" stroke-width="1.0"/>
<polygon points="244.20,364.90 250.70,363.20 250.70,366.60" fill="#333"/>
<polygon points="405.80,364.90 399.30,366.60 399.30,363.20" fill="#333"/>
<text x="325.00" y="361.00" font-size="16.5" text-anchor="middle" fill="#1e1e1e">D</text>
<line x1="260.50" y1="307.00" x2="260.50" y2="347.00" stroke="#3a3a3a" stroke-width="0.9"/>
<line x1="389.80" y1="307.00" x2="389.80" y2="347.00" stroke="#3a3a3a" stroke-width="0.9"/>
<line x1="260.50" y1="343.40" x2="389.80" y2="343.40" stroke="#3a3a3a" stroke-width="1.0"/>
<polygon points="260.50,343.40 267.00,341.70 267.00,345.10" fill="#333"/>
<polygon points="389.80,343.40 383.30,345.10 383.30,341.70" fill="#333"/>
<text x="325.00" y="339.20" font-size="16.5" text-anchor="middle" fill="#1e1e1e">E</text>
<line x1="255.40" y1="307.00" x2="255.40" y2="327.00" stroke="#3a3a3a" stroke-width="0.9"/>
<line x1="265.40" y1="307.00" x2="265.40" y2="327.00" stroke="#3a3a3a" stroke-width="0.9"/>
<line x1="245.00" y1="326.60" x2="283.50" y2="326.60" stroke="#3a3a3a" stroke-width="1.0"/>
<polygon points="255.40,326.60 248.90,328.30 248.90,324.90" fill="#333"/>
<polygon points="265.40,326.60 271.90,324.90 271.90,328.30" fill="#333"/>
<text x="279.80" y="323.60" font-size="16.5" text-anchor="middle" fill="#1e1e1e">F</text>
<polyline points="737.70,272.00 737.70,302.50 741.50,306.00 757.00,306.00 760.00,303.50 772.50,275.00 789.00,275.00" fill="none" stroke="#1c1c1c" stroke-width="1.3" stroke-linejoin="round"/>
<polyline points="741.00,272.00 741.00,302.50 756.00,302.50 768.50,272.00" fill="none" stroke="#1c1c1c" stroke-width="1.1" stroke-linejoin="round"/>
<rect x="777.00" y="276.00" width="12.00" height="9.00" fill="#f0f0f0" stroke="#1c1c1c" stroke-width="1.1"/>
<line x1="777.00" y1="280.50" x2="789.00" y2="280.50" stroke="#1c1c1c" stroke-width="0.8"/>
<rect x="779.00" y="272.00" width="8.00" height="4.00" fill="#f0f0f0" stroke="#1c1c1c" stroke-width="0.9"/>
<polygon points="662.30,146.90 677.00,133.40 725.50,133.40 725.50,274.90 676.60,274.90 662.30,262.90" fill="#f0f0f0" stroke="#1c1c1c" stroke-width="1.4" stroke-linejoin="round"/>
<line x1="677.00" y1="134.00" x2="677.00" y2="274.00" stroke="#1c1c1c" stroke-width="1.3"/>
<line x1="680.00" y1="138.00" x2="680.00" y2="270.00" stroke="#1c1c1c" stroke-width="0.7"/>
<rect x="705.00" y="129.50" width="7.00" height="3.90" fill="#f0f0f0" stroke="#1c1c1c" stroke-width="0.9"/>
<rect x="705.00" y="274.90" width="7.00" height="4.10" fill="#f0f0f0" stroke="#1c1c1c" stroke-width="0.9"/>
<circle cx="708.30" cy="205.50" r="3.30" fill="#f0f0f0" stroke="#1c1c1c" stroke-width="1.6"/>
<circle cx="708.30" cy="205.50" r="1.20" fill="#333" stroke="#1c1c1c" stroke-width="0"/>
<rect x="725.50" y="135.60" width="120.50" height="136.60" fill="#f0f0f0" stroke="#1c1c1c" stroke-width="1.3"/>
<line x1="725.50" y1="140.40" x2="845.00" y2="140.40" stroke="#1c1c1c" stroke-width="1.6"/>
<line x1="725.50" y1="267.60" x2="845.00" y2="267.60" stroke="#1c1c1c" stroke-width="1.6"/>
<line x1="725.50" y1="149.20" x2="845.00" y2="149.20" stroke="#1c1c1c" stroke-width="2.0"/>
<line x1="725.50" y1="258.80" x2="845.00" y2="258.80" stroke="#1c1c1c" stroke-width="2.0"/>
<line x1="725.50" y1="158.00" x2="845.00" y2="158.00" stroke="#1c1c1c" stroke-width="1.0"/>
<line x1="725.50" y1="250.00" x2="845.00" y2="250.00" stroke="#1c1c1c" stroke-width="1.0"/>
<line x1="725.50" y1="162.00" x2="845.00" y2="162.00" stroke="#1c1c1c" stroke-width="2.0"/>
<line x1="725.50" y1="246.00" x2="845.00" y2="246.00" stroke="#1c1c1c" stroke-width="2.0"/>
<line x1="725.50" y1="169.30" x2="845.00" y2="169.30" stroke="#1c1c1c" stroke-width="1.0"/>
<line x1="725.50" y1="238.70" x2="845.00" y2="238.70" stroke="#1c1c1c" stroke-width="1.0"/>
<line x1="725.50" y1="177.60" x2="845.00" y2="177.60" stroke="#1c1c1c" stroke-width="2.0"/>
<line x1="725.50" y1="230.40" x2="845.00" y2="230.40" stroke="#1c1c1c" stroke-width="2.0"/>
<line x1="725.50" y1="182.50" x2="845.00" y2="182.50" stroke="#1c1c1c" stroke-width="1.0"/>
<line x1="725.50" y1="225.50" x2="845.00" y2="225.50" stroke="#1c1c1c" stroke-width="1.0"/>
<line x1="725.50" y1="196.00" x2="845.00" y2="196.00" stroke="#555" stroke-width="3.2"/>
<line x1="725.50" y1="212.00" x2="845.00" y2="212.00" stroke="#555" stroke-width="3.2"/>
<path d="M843,149.20 Q849.5,149.20 849,153.60 Q848.5,158.00 843,158.00" fill="#f0f0f0" stroke="#1c1c1c" stroke-width="1.2"/>
<path d="M843,162.00 Q849.5,162.00 849,165.65 Q848.5,169.30 843,169.30" fill="#f0f0f0" stroke="#1c1c1c" stroke-width="1.2"/>
<path d="M843,177.60 Q849.5,177.60 849,180.05 Q848.5,182.50 843,182.50" fill="#f0f0f0" stroke="#1c1c1c" stroke-width="1.2"/>
<path d="M843,225.50 Q849.5,225.50 849,227.95 Q848.5,230.40 843,230.40" fill="#f0f0f0" stroke="#1c1c1c" stroke-width="1.2"/>
<path d="M843,238.70 Q849.5,238.70 849,242.35 Q848.5,246.00 843,246.00" fill="#f0f0f0" stroke="#1c1c1c" stroke-width="1.2"/>
<path d="M843,250.00 Q849.5,250.00 849,254.40 Q848.5,258.80 843,258.80" fill="#f0f0f0" stroke="#1c1c1c" stroke-width="1.2"/>
<path d="M843,267.60 Q849.5,267.60 849,270.00 Q848.5,272.40 843,272.40" fill="#f0f0f0" stroke="#1c1c1c" stroke-width="1.2"/>
<line x1="845.50" y1="150.00" x2="845.50" y2="266.00" stroke="#1c1c1c" stroke-width="1.1"/>
<line x1="728.50" y1="198.00" x2="728.50" y2="210.00" stroke="#1c1c1c" stroke-width="0.8"/>
<line x1="837.00" y1="199.40" x2="837.00" y2="207.80" stroke="#1c1c1c" stroke-width="0.8"/>
<rect x="837.10" y="199.40" width="4.50" height="8.40" fill="#f0f0f0" stroke="#1c1c1c" stroke-width="0.9"/>
<path d="M803.7,149.2 L803.7,124 Q803.7,121.9 806,121.9 L847,121.9 Q849.4,121.9 849.4,124 L849.4,149.2" fill="#f0f0f0" stroke="#1c1c1c" stroke-width="1.4"/>
<line x1="806.90" y1="126.00" x2="806.90" y2="145.00" stroke="#1c1c1c" stroke-width="1.2"/>
<line x1="846.20" y1="126.00" x2="846.20" y2="145.00" stroke="#1c1c1c" stroke-width="1.2"/>
<rect x="776.00" y="133.50" width="13.00" height="2.50" fill="#333" stroke="none" stroke-width="0"/>
<path d="M849.4,273.1 L849.4,133.6 L860,133.6 L860,273.1 Z" fill="#f0f0f0" stroke="#1c1c1c" stroke-width="1.2"/>
<path d="M855.5,142.9 L869,142.9 Q872.7,142.9 872.7,147 L872.7,259 Q872.7,264 867,264 L855.5,264" fill="#f0f0f0" stroke="#1c1c1c" stroke-width="1.2"/>
<line x1="855.90" y1="145.00" x2="855.90" y2="195.00" stroke="#1c1c1c" stroke-width="2.0"/>
<line x1="855.90" y1="213.60" x2="855.90" y2="262.80" stroke="#1c1c1c" stroke-width="2.0"/>
<line x1="868.80" y1="147.00" x2="868.80" y2="195.00" stroke="#1c1c1c" stroke-width="1.0"/>
<line x1="868.80" y1="213.00" x2="868.80" y2="260.00" stroke="#1c1c1c" stroke-width="1.0"/>
<rect x="861.70" y="135.60" width="5.30" height="6.20" fill="#f0f0f0" stroke="#1c1c1c" stroke-width="1.0"/>
<rect x="861.70" y="264.00" width="5.30" height="8.00" fill="#f0f0f0" stroke="#1c1c1c" stroke-width="1.0"/>
<line x1="849.40" y1="199.00" x2="872.70" y2="199.00" stroke="#1c1c1c" stroke-width="0.9" stroke-dasharray="3 2"/>
<line x1="849.40" y1="209.00" x2="872.70" y2="209.00" stroke="#1c1c1c" stroke-width="0.9" stroke-dasharray="3 2"/>
<rect x="858.00" y="196.00" width="8.00" height="16.00" fill="none" stroke="#1c1c1c" stroke-width="1.0"/>
<circle cx="846.00" cy="196.00" r="2.00" fill="#333" stroke="#1c1c1c" stroke-width="0"/>
<circle cx="846.00" cy="212.00" r="2.00" fill="#333" stroke="#1c1c1c" stroke-width="0"/>
<polygon points="874.20,157.30 915.20,148.80 915.20,257.60 874.00,249.90" fill="#f0f0f0" stroke="#1c1c1c" stroke-width="1.3" stroke-linejoin="round"/>
<line x1="876.30" y1="160.00" x2="876.30" y2="187.00" stroke="#1c1c1c" stroke-width="0.8"/>
<line x1="877.90" y1="222.00" x2="877.90" y2="248.00" stroke="#1c1c1c" stroke-width="0.8"/>
<path d="M874,188.6 L880.5,188.6 L914.7,186.6 L914.7,221.6 L880.5,219.3 L874,219.3 Z" fill="#f0f0f0" stroke="#1c1c1c" stroke-width="1.2"/>
<rect x="910.50" y="187.50" width="4.20" height="33.30" fill="#c8c8c8" stroke="none" stroke-width="0"/>
<line x1="874.00" y1="188.60" x2="874.00" y2="219.30" stroke="#1c1c1c" stroke-width="2.2"/>
<line x1="880.50" y1="188.60" x2="880.50" y2="219.30" stroke="#1c1c1c" stroke-width="1.6"/>
<line x1="874.00" y1="196.00" x2="880.50" y2="196.00" stroke="#1c1c1c" stroke-width="1.0"/>
<line x1="874.00" y1="211.50" x2="880.50" y2="211.50" stroke="#1c1c1c" stroke-width="1.0"/>
<line x1="880.00" y1="184.30" x2="910.00" y2="183.00" stroke="#1c1c1c" stroke-width="1.2"/>
<line x1="880.00" y1="223.50" x2="910.00" y2="224.80" stroke="#1c1c1c" stroke-width="1.2"/>
<path d="M898.1,256.4 Q899,280 913.6,288.7 L923.3,286.8" fill="#f0f0f0" stroke="#1c1c1c" stroke-width="1.3"/>
<path d="M902.6,256.6 Q904,273 918.8,279" fill="none" stroke="#1c1c1c" stroke-width="0.8"/>
<path d="M916.2,137.5 L908.5,110 Q902.2,109 902.2,104 L902.2,87.8 L940.5,87.8 L940.5,104 Q940.5,109 934.9,110 L934.9,116.7 L939.5,116.2 L948.8,120.4 Q954,123 955,126.6 L955,180 Q957,184 962,184 L982,184 L982,223.5 L962,223.5 Q957,223.5 955,228 L955,266.7 Q958,277 955,287 Q952,292 946,292.6 L933,292.6 L933,299.7 L924.6,299.7 L924.6,290 L915.2,288 L915.2,148.8 L916.2,137.5 Z" fill="#f0f0f0" stroke="#1c1c1c" stroke-width="1.3"/>
<rect x="904.80" y="90.50" width="33.20" height="13.80" fill="none" stroke="#1c1c1c" stroke-width="0.9"/>
<line x1="907.40" y1="91.00" x2="907.40" y2="103.50" stroke="#1c1c1c" stroke-width="1.8"/>
<line x1="917.80" y1="91.00" x2="917.80" y2="103.50" stroke="#1c1c1c" stroke-width="1.4"/>
<line x1="924.50" y1="91.00" x2="924.50" y2="103.50" stroke="#1c1c1c" stroke-width="1.4"/>
<line x1="937.40" y1="91.00" x2="937.40" y2="103.50" stroke="#1c1c1c" stroke-width="1.4"/>
<line x1="904.80" y1="107.00" x2="938.00" y2="107.00" stroke="#1c1c1c" stroke-width="0.8" stroke-dasharray="3 2"/>
<line x1="912.00" y1="113.00" x2="932.00" y2="113.00" stroke="#1c1c1c" stroke-width="0.8" stroke-dasharray="3 2"/>
<line x1="919.80" y1="140.00" x2="919.80" y2="292.00" stroke="#1c1c1c" stroke-width="1.0"/>
<line x1="923.00" y1="140.00" x2="923.00" y2="292.00" stroke="#1c1c1c" stroke-width="1.3"/>
<line x1="929.20" y1="118.00" x2="929.20" y2="292.00" stroke="#1c1c1c" stroke-width="0.9"/>
<line x1="934.90" y1="118.00" x2="934.90" y2="292.00" stroke="#1c1c1c" stroke-width="1.3"/>
<line x1="941.60" y1="127.00" x2="941.60" y2="292.00" stroke="#1c1c1c" stroke-width="1.9"/>
<line x1="948.80" y1="127.00" x2="948.80" y2="285.00" stroke="#1c1c1c" stroke-width="0.9"/>
<line x1="952.50" y1="127.00" x2="952.50" y2="285.00" stroke="#1c1c1c" stroke-width="1.3"/>
<path d="M920,163 Q936,160 955,163" fill="none" stroke="#1c1c1c" stroke-width="1.1"/>
<path d="M920,245 Q936,248 955,245" fill="none" stroke="#1c1c1c" stroke-width="1.1"/>
<ellipse cx="951.8" cy="171.5" rx="3.2" ry="4.5" fill="#f0f0f0" stroke="#1c1c1c" stroke-width="1.1"/>
<ellipse cx="952.4" cy="236.3" rx="3.2" ry="4.5" fill="#f0f0f0" stroke="#1c1c1c" stroke-width="1.1"/>
<rect x="955.00" y="126.60" width="4.20" height="13.40" fill="#f0f0f0" stroke="#1c1c1c" stroke-width="1.0"/>
<rect x="959.20" y="128.10" width="7.80" height="8.90" fill="#f0f0f0" stroke="#1c1c1c" stroke-width="1.1"/>
<rect x="957.60" y="277.00" width="5.20" height="10.40" fill="#f0f0f0" stroke="#1c1c1c" stroke-width="1.0"/>
<rect x="965.00" y="187.00" width="16.00" height="33.50" fill="none" stroke="#1c1c1c" stroke-width="0.9" stroke-dasharray="3 2"/>
<line x1="962.00" y1="196.00" x2="982.00" y2="196.00" stroke="#1c1c1c" stroke-width="0.8"/>
<line x1="962.00" y1="212.00" x2="982.00" y2="212.00" stroke="#1c1c1c" stroke-width="0.8"/>
<rect x="900.00" y="299.70" width="58.90" height="7.80" fill="#f0f0f0" stroke="#1c1c1c" stroke-width="1.3"/>
<polygon points="900.70,299.70 923.30,286.80 924.60,299.70" fill="#f0f0f0" stroke="#1c1c1c" stroke-width="1.1" stroke-linejoin="round"/>
<polygon points="933.00,291.30 933.00,299.70 956.30,299.70" fill="#f0f0f0" stroke="#1c1c1c" stroke-width="1.1" stroke-linejoin="round"/>
<circle cx="903.50" cy="303.60" r="0.90" fill="#333" stroke="#1c1c1c" stroke-width="0"/>
<circle cx="916.00" cy="303.60" r="0.90" fill="#333" stroke="#1c1c1c" stroke-width="0"/>
<circle cx="941.00" cy="303.60" r="0.90" fill="#333" stroke="#1c1c1c" stroke-width="0"/>
<circle cx="953.50" cy="303.60" r="0.90" fill="#333" stroke="#1c1c1c" stroke-width="0"/>
<line x1="655.00" y1="204.00" x2="1000.00" y2="204.00" stroke="#222" stroke-width="1.1" stroke-dasharray="14 3 2 3"/>
<line x1="929.80" y1="118.00" x2="929.80" y2="307.00" stroke="#333" stroke-width="0.9"/>
<line x1="921.40" y1="65.00" x2="921.40" y2="118.00" stroke="#333" stroke-width="0.8"/>
<polygon points="921.4,65.2 929,81.7 914,81.7" fill="#111"/>
<line x1="921.20" y1="43.50" x2="921.20" y2="66.00" stroke="#3a3a3a" stroke-width="1.0"/>
<line x1="907.80" y1="57.80" x2="907.80" y2="88.00" stroke="#3a3a3a" stroke-width="0.9"/>
<line x1="934.70" y1="57.80" x2="934.70" y2="88.00" stroke="#3a3a3a" stroke-width="0.9"/>
<line x1="872.30" y1="57.80" x2="935.00" y2="57.80" stroke="#3a3a3a" stroke-width="1.0"/>
<polygon points="907.80,57.80 902.80,59.80 902.80,55.80" fill="#333"/>
<polygon points="934.70,57.80 929.70,59.80 929.70,55.80" fill="#333"/>
<text x="860.8" y="50.7" font-size="17" textLength="42" lengthAdjust="spacingAndGlyphs" fill="#1e1e1e">DNM</text>
<line x1="921.20" y1="43.50" x2="982.30" y2="43.50" stroke="#3a3a3a" stroke-width="1.0"/>
<polygon points="921.20,43.50 927.70,41.80 927.70,45.20" fill="#333"/>
<polygon points="982.30,43.50 975.80,45.20 975.80,41.80" fill="#333"/>
<text x="952.00" y="38.40" font-size="16.5" text-anchor="middle" fill="#1e1e1e">N</text>
<line x1="982.20" y1="43.50" x2="982.20" y2="366.00" stroke="#3a3a3a" stroke-width="0.9"/>
<polygon points="994.1,203.5 1012,196.4 1012,211.2" fill="#111"/>
<line x1="982.00" y1="187.90" x2="1024.00" y2="187.90" stroke="#3a3a3a" stroke-width="0.9"/>
<line x1="982.00" y1="219.20" x2="1024.00" y2="219.20" stroke="#3a3a3a" stroke-width="0.9"/>
<line x1="1021.70" y1="176.50" x2="1021.70" y2="230.60" stroke="#3a3a3a" stroke-width="1.0"/>
<polygon points="1021.70,187.90 1019.70,182.90 1023.70,182.90" fill="#333"/>
<polygon points="1021.70,219.20 1023.70,224.20 1019.70,224.20" fill="#333"/>
<text x="1039.6" y="204.5" font-size="16.5" text-anchor="middle" textLength="31.5" lengthAdjust="spacingAndGlyphs" fill="#1e1e1e" transform="rotate(-90 1039.6 204.5)">DNA</text>
<line x1="911.00" y1="306.40" x2="911.00" y2="356.00" stroke="#3a3a3a" stroke-width="0.9"/>
<line x1="947.60" y1="306.40" x2="947.60" y2="331.00" stroke="#3a3a3a" stroke-width="0.9"/>
<line x1="911.00" y1="328.60" x2="947.60" y2="328.60" stroke="#3a3a3a" stroke-width="1.0"/>
<polygon points="911.00,328.60 917.50,326.90 917.50,330.30" fill="#333"/>
<polygon points="947.60,328.60 941.10,330.30 941.10,326.90" fill="#333"/>
<text x="929.20" y="324.60" font-size="16.5" text-anchor="middle" fill="#1e1e1e">B</text>
<line x1="911.00" y1="353.00" x2="982.20" y2="353.00" stroke="#3a3a3a" stroke-width="1.0"/>
<polygon points="911.00,353.00 917.50,351.30 917.50,354.70" fill="#333"/>
<polygon points="982.20,353.00 975.70,354.70 975.70,351.30" fill="#333"/>
<text x="947.00" y="348.40" font-size="16.5" text-anchor="middle" fill="#1e1e1e">A</text>
<line x1="662.40" y1="263.00" x2="662.40" y2="366.00" stroke="#3a3a3a" stroke-width="0.9"/>
<line x1="662.40" y1="364.80" x2="982.20" y2="364.80" stroke="#3a3a3a" stroke-width="1.0"/>
<polygon points="662.40,364.80 668.90,363.10 668.90,366.50" fill="#333"/>
<polygon points="982.20,364.80 975.70,366.50 975.70,363.10" fill="#333"/>
<text x="822.30" y="356.60" font-size="16.5" text-anchor="middle" fill="#1e1e1e">C</text>
</svg>
</body></html>
